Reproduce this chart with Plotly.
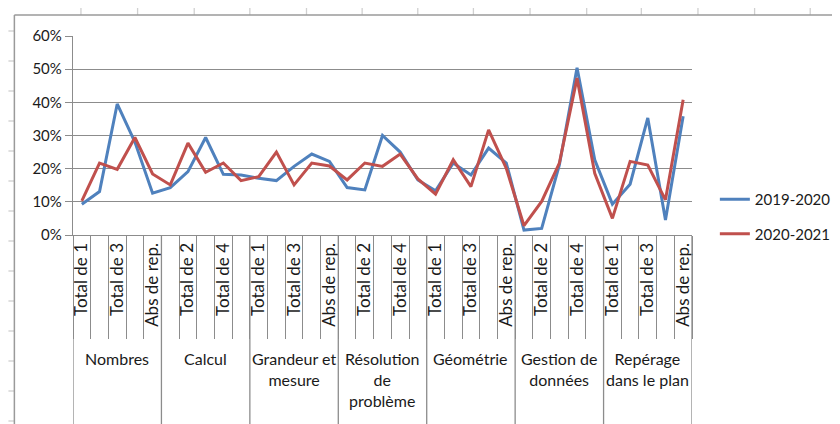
import plotly.graph_objects as go

groups = ["Nombres", "Calcul", "Grandeur et<br>mesure", "Résolution<br>de<br>problème",
          "Géométrie", "Gestion de<br>données", "Repérage<br>dans le plan"]
subcats = ["Total de 1", "Total de 2", "Total de 3", "Total de 4", "Abs de rep."]

s2019 = [0.093, 0.131, 0.395, 0.28, 0.126,
         0.143, 0.191, 0.294, 0.183, 0.181,
         0.171, 0.164, 0.207, 0.244, 0.222,
         0.143, 0.136, 0.300, 0.250, 0.166,
         0.133, 0.217, 0.181, 0.262, 0.217,
         0.015, 0.020, 0.211, 0.504, 0.227,
         0.093, 0.153, 0.353, 0.045, 0.358]
s2020 = [0.103, 0.217, 0.198, 0.294, 0.184,
         0.151, 0.277, 0.189, 0.217, 0.164,
         0.176, 0.250, 0.151, 0.217, 0.208,
         0.166, 0.217, 0.207, 0.244, 0.169,
         0.123, 0.227, 0.146, 0.317, 0.201,
         0.028, 0.101, 0.217, 0.473, 0.186,
         0.050, 0.222, 0.211, 0.106, 0.408]
series_names = ["2019-2020", "2020-2021"]
colors = ["#4F81BD", "#C0504D"]

n_sub = len(subcats)
categories = [g.replace("<br>", " ") + " | " + s for g in groups for s in subcats]
xidx = list(range(len(categories)))

FONT = "Lato, Calibri, Carlito, sans-serif"
GRID = "#8c8c8c"
TXT = "#1a1a1a"

fig = go.Figure()
for name, vals, col in zip(series_names, [s2019, s2020], colors):
    fig.add_trace(go.Scatter(x=xidx, y=vals, mode="lines", name=name,
                             legendgroup=name,
                             line=dict(color=col, width=3),
                             hovertext=categories))

# plot geometry (px)
L, R, T, B = 65, 688, 28, 227
W, H = R - L, B - T
def px_x(p):
    return (p - L) / W
def px_y(p):
    return (B - p) / H

shapes = []
# group separators
for k in range(len(groups) + 1):
    xv = k * n_sub - 0.5
    shapes.append(dict(type="line", xref="x", yref="paper", x0=xv, x1=xv,
                       y0=0, y1=px_y(416), line=dict(color=GRID, width=1.3)))
# spreadsheet background lines (top and left)
for p in [73, 130, 187, 243, 300, 356, 412, 468, 525, 582, 637, 694, 751, 807]:
    shapes.append(dict(type="line", xref="paper", yref="paper", x0=px_x(p), x1=px_x(p),
                       y0=px_y(0), y1=px_y(7), line=dict(color="#d0d0d0", width=1.3)))
for p in range(23, 424, 30):
    shapes.append(dict(type="line", xref="paper", yref="paper", x0=px_x(0), x1=px_x(6),
                       y0=px_y(p), y1=px_y(p), line=dict(color="#d0d0d0", width=1.3)))
# chart area border
shapes.append(dict(type="line", xref="paper", yref="paper", x0=px_x(6), x1=px_x(840),
                   y0=px_y(7), y1=px_y(7), line=dict(color="#9a9a9a", width=1.5)))
shapes.append(dict(type="line", xref="paper", yref="paper", x0=px_x(6), x1=px_x(6),
                   y0=px_y(7), y1=px_y(424), line=dict(color="#9a9a9a", width=1.5)))

annotations = []
for k, g in enumerate(groups):
    annotations.append(dict(x=k * n_sub + (n_sub - 1) / 2, xref="x", y=px_y(339), yref="paper",
                            text=g, showarrow=False, xanchor="center", yanchor="top",
                            font=dict(family=FONT, size=16, color=TXT)))

tickvals = xidx[::2]
ticktext = [categories[i].split(" | ")[1] for i in tickvals]

fig.update_layout(
    width=840, height=424,
    margin=dict(l=L, r=840 - R, t=T, b=424 - B),
    paper_bgcolor="white", plot_bgcolor="white",
    font=dict(family=FONT, color=TXT),
    showlegend=True,
    legend=dict(x=px_x(711), y=px_y(175), xanchor="left", yanchor="top",
                font=dict(family=FONT, size=15, color=TXT),
                tracegroupgap=12, bgcolor="rgba(0,0,0,0)"),
    shapes=shapes,
    annotations=annotations,
    xaxis=dict(range=[-0.5, len(categories) - 0.5], tickmode="array",
               tickvals=tickvals, ticktext=ticktext, tickangle=-90,
               tickfont=dict(family=FONT, size=17, color=TXT),
               showgrid=False, zeroline=False, showline=True, linecolor=GRID, linewidth=1.3,
               ticks="",
               minor=dict(tickmode="array", tickvals=[i - 0.5 for i in range(len(categories) + 1)],
                          ticks="outside", ticklen=103, tickcolor=GRID, tickwidth=1.3, showgrid=False)),
    yaxis=dict(range=[0, 0.6], dtick=0.1, tick0=0, tickformat=".0%",
               tickfont=dict(family=FONT, size=15, color=TXT),
               showgrid=True, gridcolor=GRID, gridwidth=1.3, zeroline=False,
               showline=True, linecolor=GRID, linewidth=1.3,
               ticks="outside", ticklen=7, tickcolor=GRID, tickwidth=1.3),
)

fig.write_html("out.html")
